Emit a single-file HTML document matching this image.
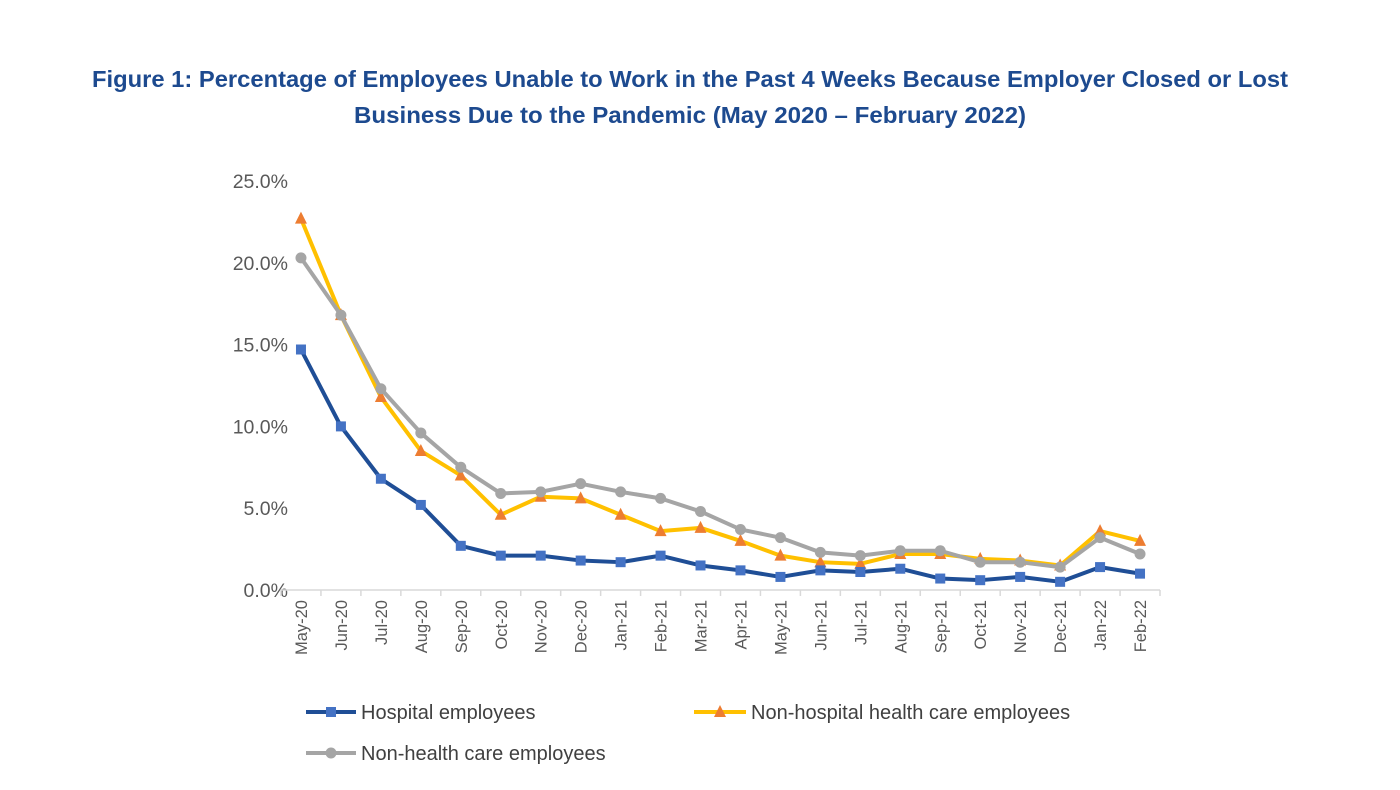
<!DOCTYPE html>
<html><head><meta charset="utf-8"><style>
body{margin:0;background:#fff;}
svg{display:block;font-family:"Liberation Sans",sans-serif;}
</style></head><body>
<svg id="chart" width="1400" height="790" viewBox="0 0 1400 790">
<text x="690" y="87" text-anchor="middle" font-size="23" font-weight="bold" fill="#1d4a8f" textLength="1196" lengthAdjust="spacingAndGlyphs">Figure 1: Percentage of Employees Unable to Work in the Past 4 Weeks Because Employer Closed or Lost</text>
<text x="690" y="123" text-anchor="middle" font-size="23" font-weight="bold" fill="#1d4a8f" textLength="672" lengthAdjust="spacingAndGlyphs">Business Due to the Pandemic (May 2020 – February 2022)</text>
<g id="yaxis"></g>
<g id="xaxis"></g>
<g id="series"></g>
<g>
<g>
<line x1="306" y1="712" x2="356" y2="712" stroke="#1f4e96" stroke-width="4"/><rect x="326" y="707" width="10" height="10" fill="#4472c4"/>
<text x="361" y="719" font-size="20" fill="#404040">Hospital employees</text></g>
<g>
<line x1="694" y1="712" x2="746" y2="712" stroke="#ffc000" stroke-width="4"/><polygon points="720,705 726,717 714,717" fill="#ed7d31"/>
<text x="751" y="719" font-size="20" fill="#404040">Non-hospital health care employees</text></g>
<g>
<line x1="306" y1="753" x2="356" y2="753" stroke="#a5a5a5" stroke-width="4"/><circle cx="331" cy="753" r="5.5" fill="#a5a5a5"/>
<text x="361" y="760" font-size="20" fill="#404040">Non-health care employees</text></g>
</g>
</svg>
<script>
const categories=["May-20","Jun-20","Jul-20","Aug-20","Sep-20","Oct-20","Nov-20","Dec-20","Jan-21","Feb-21","Mar-21","Apr-21","May-21","Jun-21","Jul-21","Aug-21","Sep-21","Oct-21","Nov-21","Dec-21","Jan-22","Feb-22"];
const hospital=[14.7,10.0,6.8,5.2,2.7,2.1,2.1,1.8,1.7,2.1,1.5,1.2,0.8,1.2,1.1,1.3,0.7,0.6,0.8,0.5,1.4,1.0];
const nonHospital=[22.7,16.8,11.8,8.5,7.0,4.6,5.7,5.6,4.6,3.6,3.8,3.0,2.1,1.7,1.6,2.2,2.2,1.9,1.8,1.5,3.6,3.0];
const nonHealth=[20.3,16.8,12.3,9.6,7.5,5.9,6.0,6.5,6.0,5.6,4.8,3.7,3.2,2.3,2.1,2.4,2.4,1.7,1.7,1.4,3.2,2.2];
const yTicks=[0,5,10,15,20,25];
const NS="http://www.w3.org/2000/svg";
const x0=281,x1=1160,yBase=590,yTop=181,yMax=25;
const bw=(x1-x0)/categories.length;
const xs=i=>x0+bw*(i+0.5);
const ys=v=>yBase-(v/yMax)*(yBase-yTop);
function mk(t,a,p){const e=document.createElementNS(NS,t);for(const k in a)e.setAttribute(k,a[k]);p.appendChild(e);return e;}
const ya=document.getElementById('yaxis'),xa=document.getElementById('xaxis'),sg=document.getElementById('series');
yTicks.forEach(v=>{const t=mk('text',{x:288,y:ys(v)+7,'text-anchor':'end','font-size':19.5,fill:'#595959'},ya);t.textContent=v.toFixed(1)+'%';

});
mk('line',{x1:x0,y1:yBase,x2:x1,y2:yBase,stroke:'#d9d9d9','stroke-width':1.5},xa);
for(let i=0;i<=categories.length;i++){mk('line',{x1:x0+bw*i,y1:yBase,x2:x0+bw*i,y2:yBase+6,stroke:'#d9d9d9','stroke-width':1.5},xa);}
categories.forEach((c,i)=>{const t=mk('text',{x:0,y:0,'text-anchor':'end','font-size':16.5,fill:'#595959',transform:`translate(${xs(i)+6},${yBase+10}) rotate(-90)`},xa);t.textContent=c;

});
function series(data,color,mcolor,shape,name){
const g=mk('g',{},sg);


mk('polyline',{points:data.map((v,i)=>xs(i)+','+ys(v)).join(' '),fill:'none',stroke:color,'stroke-width':4,'stroke-linejoin':'round'},g);
data.forEach((v,i)=>{const x=xs(i),y=ys(v);let m;
if(shape==='sq')m=mk('rect',{x:x-5,y:y-5,width:10,height:10,fill:mcolor},g);
else if(shape==='tri')m=mk('polygon',{points:`${x},${y-7} ${x+6},${y+5} ${x-6},${y+5}`,fill:mcolor},g);
else m=mk('circle',{cx:x,cy:y,r:5.5,fill:mcolor},g);

});}
series(nonHospital,'#ffc000','#ed7d31','tri','non-hospital-series');
series(nonHealth,'#a5a5a5','#a5a5a5','circ','non-health-series');
series(hospital,'#1f4e96','#4472c4','sq','hospital-series');
</script>
</body></html>
